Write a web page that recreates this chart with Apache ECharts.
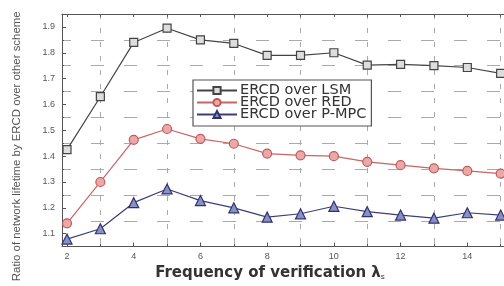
<!DOCTYPE html>
<html>
<head>
<meta charset="utf-8">
<script src="https://cdn.jsdelivr.net/npm/echarts@6/dist/echarts.min.js"></script>
<style>
  html, body { margin: 0; padding: 0; background: #fff; }
  #chart { width: 504px; height: 286px; }
</style>
</head>
<body>
<div id="chart"></div>
<script>
  // frequency of verification
  var freq = [2, 3, 4, 5, 6, 7, 8, 9, 10, 11, 12, 13, 14, 15]
  // ratio of network lifetime
  var overLSM = [1.425, 1.63, 1.84, 1.895, 1.85, 1.836, 1.79, 1.79, 1.80, 1.752, 1.755, 1.75, 1.743, 1.72]
  var overRED = [1.14, 1.30, 1.463, 1.505, 1.467, 1.448, 1.41, 1.403, 1.40, 1.378, 1.365, 1.353, 1.343, 1.332]
  var overPMPC = [1.079, 1.119, 1.22, 1.273, 1.228, 1.20, 1.164, 1.177, 1.206, 1.185, 1.172, 1.16, 1.181, 1.172]
  var seriesNames = ['ERCD over LSM', 'ERCD over RED', 'ERCD over P-MPC']

  var xMin = 1.85, xMax = 15.1
  var yMin = 1.05, yMax = 1.95
  var font = 'Liberation Sans, Arial, sans-serif'
  var wideFont = 'DejaVu Sans, sans-serif'

  function pairs(vals) {
    var out = []
    for (var i = 0; i < freq.length; i++) out.push([freq[i], vals[i]])
    return out
  }

  var chart = echarts.init(document.getElementById('chart'))
  chart.setOption({
    animation: false,
    grid: { left: 62, top: 14, right: -5, bottom: 31 },
    xAxis: [
      {
        // labels at even values
        type: 'value', min: xMin, max: xMax, minInterval: 2, maxInterval: 2,
        axisLine: { lineStyle: { color: '#555' } },
        axisTick: { inside: true, length: 4, lineStyle: { color: '#555' } },
        axisLabel: { color: '#555', fontSize: 9, fontFamily: font, margin: 5, showMinLabel: false, showMaxLabel: false },
        splitLine: { show: false },
        name: '{a|Frequency of verification λ}{b|s}',
        nameLocation: 'middle', nameGap: 17,
        nameTextStyle: {
          padding: [0, 26, 0, 0],
          rich: {
            a: { fontSize: 15, fontWeight: 'bold', color: '#333', fontFamily: wideFont },
            b: { fontSize: 8, color: '#333', fontFamily: font, padding: [8, 0, 0, 0] }
          }
        }
      },
      {
        // dashed grid at odd values (shifted by 1)
        type: 'value', min: xMin - 1, max: xMax - 1, minInterval: 2, maxInterval: 2,
        position: 'bottom',
        axisLine: { show: false },
        axisTick: { inside: true, length: 3, lineStyle: { color: '#555' } },
        axisLabel: { show: false, showMinLabel: false, showMaxLabel: false },
        splitLine: { show: true, lineStyle: { color: '#aaa', type: [5, 9], width: 1 } }
      },
      {
        // top frame
        type: 'value', min: xMin, max: xMax, minInterval: 1, maxInterval: 1,
        position: 'top',
        axisLine: { lineStyle: { color: '#555' } },
        axisTick: { inside: true, length: 3, lineStyle: { color: '#555' } },
        axisLabel: { show: false },
        splitLine: { show: false }
      }
    ],
    yAxis: [
      {
        type: 'value', min: yMin, max: yMax, minInterval: 0.1, maxInterval: 0.1,
        axisLine: { show: true, lineStyle: { color: '#555' } },
        axisTick: { show: true, inside: true, length: 4, lineStyle: { color: '#555' } },
        axisLabel: {
          color: '#555', fontSize: 9, fontFamily: font, margin: 7,
          showMinLabel: false, showMaxLabel: false,
          formatter: function (v) { return v.toFixed(1) }
        },
        splitLine: { show: false },
        name: 'Ratio of network lifetime by ERCD over other scheme',
        nameLocation: 'middle', nameGap: 40, nameRotate: 90,
        nameTextStyle: { fontSize: 11.4, color: '#555', fontFamily: font, padding: [0, 32, 0, 0] }
      },
      {
        // dashed grid at half values (shifted by 0.05)
        type: 'value', min: yMin - 0.05, max: yMax - 0.05, minInterval: 0.1, maxInterval: 0.1,
        position: 'left',
        axisLine: { show: false },
        axisTick: { show: true, inside: true, length: 2, lineStyle: { color: '#555' } },
        axisLabel: { show: false },
        splitLine: { show: true, lineStyle: { color: '#aaa', type: [13, 20], dashOffset: 4, width: 1.2 } }
      }
    ],
    legend: {
      orient: 'vertical',
      left: 193, top: 80,
      data: seriesNames,
      itemWidth: 40, itemHeight: 9, itemGap: -3,
      padding: [3, 5, 4, 3],
      borderColor: '#555', borderWidth: 1.2,
      backgroundColor: '#fff',
      textStyle: { fontSize: 14.5, lineHeight: 12, color: '#333', fontFamily: wideFont, padding: [0, 0, 0, -2] }
    },
    series: [
      {
        name: seriesNames[0], type: 'line', data: pairs(overLSM),
        symbol: 'rect', symbolSize: 8,
        lineStyle: { color: '#444', width: 1.2 },
        itemStyle: { color: '#ddd', borderColor: '#444', borderWidth: 1.2 }
      },
      {
        name: seriesNames[1], type: 'line', data: pairs(overRED),
        symbol: 'circle', symbolSize: 9,
        lineStyle: { color: '#c86464', width: 1.2 },
        itemStyle: { color: '#e9a9a9', borderColor: '#c25a5a', borderWidth: 1.2 }
      },
      {
        name: seriesNames[2], type: 'line', data: pairs(overPMPC),
        symbol: 'triangle', symbolSize: 10,
        lineStyle: { color: '#3a3f78', width: 1.2 },
        itemStyle: { color: '#8a90c4', borderColor: '#2e3370', borderWidth: 1.2 }
      }
    ]
  })
</script>
</body>
</html>
